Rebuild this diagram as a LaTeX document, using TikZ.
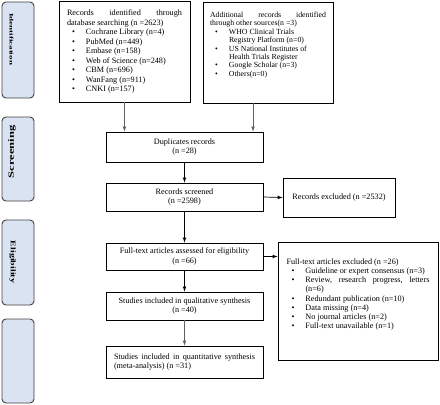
\documentclass[tikz,border=0pt]{standalone}
\usepackage{fontspec}
\setmainfont{Liberation Serif}
\setlength{\parindent}{0pt}
\definecolor{stagefill}{RGB}{218,227,242}
\definecolor{stageline}{RGB}{64,64,64}
\newcommand{\bitem}{\hspace*{5pt}\makebox[14pt][l]{\textbullet}}
\newcommand{\bwrap}{\hspace*{19pt}}

\begin{document}
\begin{tikzpicture}[x=1pt, y=-1pt, line width=0.9pt,
    flowbox/.style={draw, inner sep=0pt, minimum width=157pt, align=center, font=\fontsize{8.2}{9.4}\selectfont},
    listbox/.style={draw, inner sep=0pt, align=justify, font=\fontsize{8.2}{9.4}\selectfont},
    stagebox/.style={draw=stageline, fill=stagefill, rounded corners=4pt, minimum width=32pt, inner sep=0pt},
    stagename/.style={inner sep=0pt, font=\bfseries}]
        \useasboundingbox (0,0) rectangle (440,405);

        % stages on the left
        \node[stagebox, minimum height=96pt] (identbox) at (18,50) {};
        \node[stagebox, minimum height=84pt] (screenbox) at (18,159) {};
        \node[stagebox, minimum height=85pt] (eligbox) at (18,262.5) {};
        \node[stagebox, minimum height=84pt] (inclbox) at (18,361) {};
        \node[stagename, rotate=-90, yscale=0.6, font=\bfseries\fontsize{9}{9}\selectfont] (identlbl) at (11.5,39) {Identification};
        \node[stagename, rotate=90, yscale=0.65, font=\bfseries\fontsize{12.5}{12.5}\selectfont] (screenlbl) at (12,152) {Screening};
        \node[stagename, rotate=-90, yscale=0.7, font=\bfseries\fontsize{10}{10}\selectfont] (eliglbl) at (12.5,262) {Eligibility};

        % sources
        \node[listbox, minimum width=131pt, minimum height=101pt, text width=115pt, font=\fontsize{8.2}{9.5}\selectfont] (db) at (124.5,51.5) {%
          Records\hfill identified\hfill through\par
          database searching (n =2623)\par
          \bitem Cochrane Library (n=4)\par
          \bitem PubMed (n=449)\par
          \bitem Embase (n=158)\par
          \bitem Web of Science (n=248)\par
          \bitem CBM (n=696)\par
          \bitem WanFang (n=911)\par
          \bitem CNKI (n=157)};
        \node[listbox, minimum width=130pt, minimum height=101pt, text width=116pt, font=\fontsize{7.8}{8.4}\selectfont] (add) at (268,52.5) {%
          Additional\hfill records\hfill identified\par
          through other sources(n =3)\par
          \bitem WHO Clinical Trials\par
          \bwrap Registry Platform (n=0)\par
          \bitem US National Institutes of\par
          \bwrap Health Trials Register\par
          \bitem Google Scholar (n=3)\par
          \bitem Others(n=0)\par
          \rule{0pt}{14pt}};

        % main flow
        \node[flowbox, minimum height=30pt] (dup) at (184.5,147) {Duplicates records\\(n =28)};
        \node[flowbox, minimum height=28pt] (screened) at (184.5,197) {Records screened\\(n =2598)};
        \node[flowbox, minimum width=112pt, minimum height=39pt] (recexcl) at (339,197.5) {Records excluded (n =2532)};
        \node[flowbox, minimum height=27pt] (assessed) at (184.5,256.5) {Full-text articles assessed for eligibility\\(n =66)};
        \node[listbox, minimum width=160pt, minimum height=118pt, text width=143pt, font=\fontsize{8.2}{9.1}\selectfont] (ftexcl) at (358,301) {%
          Full-text articles excluded (n =26)\par
          \bitem Guideline or expert consensus (n=3)\par
          \bitem Review,\hfill research\hfill progress,\hfill letters\par
          \bwrap (n=6)\par
          \bitem Redundant publication (n=10)\par
          \bitem Data missing (n=4)\par
          \bitem No journal articles (n=2)\par
          \bitem Full-text unavailable (n=1)\par
          \rule{0pt}{12pt}};
        \node[flowbox, minimum height=28pt] (qual) at (184.5,306) {Studies included in qualitative synthesis\\(n =40)};
        \node[listbox, minimum width=157pt, minimum height=32pt, text width=141pt] (quant) at (184.5,362) {%
          Studies\hfill included\hfill in\hfill quantitative\hfill synthesis\par
          (meta-analysis) (n =31)};

        \draw[-latex, line width=0.7pt, gray!75!black] (db.south) -- (db.south |- dup.north);
        \draw[-latex, line width=0.7pt, gray!75!black] ([xshift=-15pt]add.south) -- ([xshift=-15pt]add.south |- dup.north);
        \draw[-latex, line width=0.7pt] (dup.south) -- (screened.north);
        \draw[-latex, line width=0.7pt] (screened.east) -- (recexcl.west);
        \draw[-latex, line width=0.7pt] (screened.south) -- (assessed.north);
        \draw[-latex, line width=0.7pt] (assessed.east) -- (assessed.east -| ftexcl.west);
        \draw[-latex, line width=0.7pt] (assessed.south) -- (qual.north);
        \draw[-latex, line width=0.7pt, gray!75!black] (qual.south) -- (quant.north);
      \end{tikzpicture}
\end{document}
